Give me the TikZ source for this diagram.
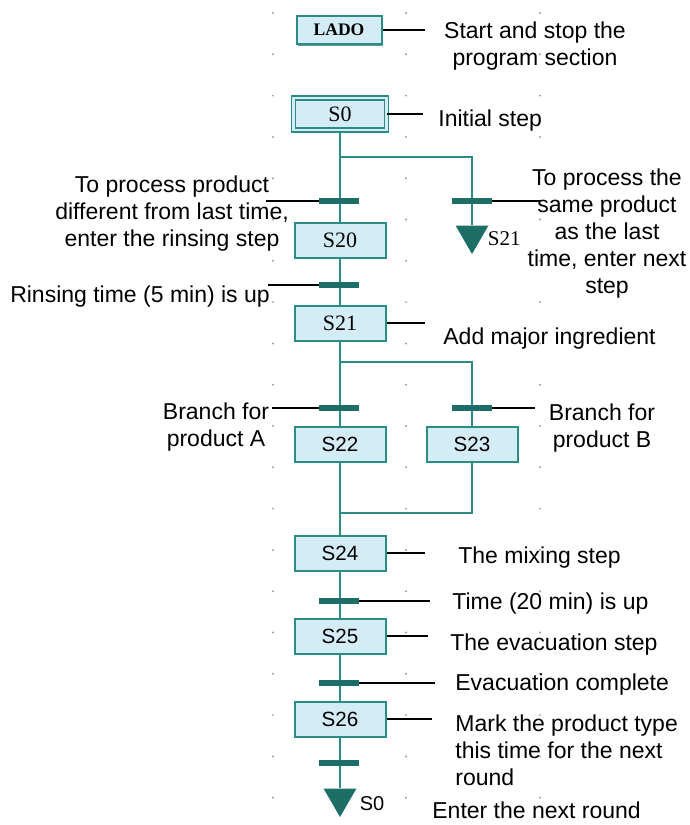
\documentclass[tikz,border=0pt]{standalone}
\usepackage{fontspec}
\setmainfont{Liberation Sans}
\newfontfamily\plcserif{Liberation Serif}
\usetikzlibrary{positioning, shapes.geometric, shadows, backgrounds}
\definecolor{sfcLine}{HTML}{2A8C84}
\definecolor{sfcDark}{HTML}{1D6E66}
\definecolor{sfcFill}{HTML}{D3ECF6}
\definecolor{gridDot}{HTML}{A0A0A0}
\tikzset{
  stepbox/.style={rectangle, draw=sfcLine, fill=sfcFill, line width=1pt,
                  minimum width=45.5pt, minimum height=17.5pt, inner sep=0pt,
                  font=\plcserif\fontsize{11}{12}\selectfont,
                  drop shadow={shadow xshift=0.8pt, shadow yshift=-0.8pt,
                               fill=sfcDark, opacity=0.7}},
  sansstep/.style={stepbox, font=\fontsize{10.3}{11}\selectfont},
  initstep/.style={stepbox, double=sfcFill, double distance=1.2pt,
                   line width=0.7pt, minimum width=46.5pt, minimum height=16pt},
  trans/.style={rectangle, fill=sfcDark, minimum width=20pt,
                minimum height=2.6pt, inner sep=0pt},
  endtri/.style={regular polygon, regular polygon sides=3,
                 shape border rotate=180, fill=sfcDark, minimum size=19pt,
                 inner sep=0pt},
  flow/.style={sfcLine, line width=0.9pt},
  lead/.style={black, line width=0.6pt},
  note/.style={font=\fontsize{11.5}{13.5}\selectfont, align=center, inner sep=0pt},
}

\begin{document}
\begin{tikzpicture}[x=0.5pt, y=-0.5pt]
  \useasboundingbox (0,0) rectangle (690,825);
  % raster of the editor
  \begin{scope}[on background layer]
    \foreach \gx in {273,406,540}
      \foreach \k in {0,...,19}
        \fill[gridDot] (\gx,13+41.3*\k) circle (0.55pt);
  \end{scope}

  % steps
  \node[stepbox, font=\plcserif\bfseries\fontsize{8.8}{10}\selectfont,
        minimum width=42.5pt, minimum height=14pt] (lado) at (339,30) {LADO};
  \node[initstep] (s0) at (340,114) {S0};
  \node[stepbox] (s20) at (340,240) {S20};
  \node[stepbox] (s21) at (340,323) {S21};
  \node[sansstep] (s22) at (340,444) {S22};
  \node[sansstep] (s23) at (472,444) {S23};
  \node[sansstep] (s24) at (340,553) {S24};
  \node[sansstep] (s25) at (340,636) {S25};
  \node[sansstep] (s26) at (340,719) {S26};

  % transitions and jumps
  \node[trans] (t0a) at (339,201) {};
  \node[trans] (t0b) at (472,201) {};
  \node[endtri] (tri1) at (472,235) {};
  \node[trans] (t1) at (339,285) {};
  \node[trans] (t2a) at (339,408) {};
  \node[trans] (t2b) at (472,408) {};
  \node[trans] (t3) at (339,601) {};
  \node[trans] (t4) at (339,683) {};
  \node[trans] (t5) at (339,763) {};
  \node[endtri] (tri2) at (340,798) {};
  \node[font=\plcserif\fontsize{10.5}{11}\selectfont, inner sep=0pt,
        right=2pt of tri1, yshift=-2pt] (jmp1) {S21};
  \node[font=\fontsize{10}{11}\selectfont, inner sep=0pt,
        right=4pt of tri2, yshift=-3pt] (jmp2) {S0};

  % flow lines
  \begin{scope}[on background layer]
    \coordinate (b0) at (340,157);
    \coordinate (b1) at (340,362);
    \coordinate (m1) at (340,513);
    \draw[flow] (s0) -- (s20);
    \draw[flow] (b0) -| (tri1);
    \draw[flow] (s20) -- (s21);
    \draw[flow] (s21) -- (s22);
    \draw[flow] (b1) -| (s23);
    \draw[flow] (s23) |- (m1);
    \draw[flow] (s22) -- (s24);
    \draw[flow] (s24) -- (s25) -- (s26) -- (tri2);
  \end{scope}

  % comments
  \node[note] (nLado) at (535,46) {Start and stop the\\program section};
  \node[note, anchor=west] (nS0) at (438,121) {Initial step};
  \node[note] (nT0a) at (172,214) {To process product\\different from last time,\\enter the rinsing step};
  \node[note] (nT0b) at (607,234) {To process the\\same product\\as the last\\time, enter next\\step};
  \node[note] (nT1) at (140,297) {Rinsing time (5 min) is up};
  \node[note, anchor=west] (nS21) at (443,339) {Add major ingredient};
  \node[note] (nT2a) at (216,427) {Branch for\\product A};
  \node[note] (nT2b) at (602,428) {Branch for\\product B};
  \node[note, anchor=west] (nS24) at (458,558) {The mixing step};
  \node[note, anchor=west] (nT3) at (452,604) {Time (20 min) is up};
  \node[note, anchor=west] (nS25) at (450,645) {The evacuation step};
  \node[note, anchor=west] (nT4) at (455,685) {Evacuation complete};
  \node[note, anchor=west, align=left] (nS26) at (455,750) {Mark the product type\\this time for the next\\round};
  \node[note, anchor=west] (nEnd) at (432,810) {Enter the next round};

  % leader lines
  \coordinate (e0) at (425,30);
  \coordinate (e1) at (423,114);
  \coordinate (e2) at (266,201);
  \coordinate (e3) at (540,201);
  \coordinate (e4) at (268,285);
  \coordinate (e5) at (425,323);
  \coordinate (e6) at (272,408);
  \coordinate (e7) at (535,408);
  \coordinate (e8) at (425,553);
  \coordinate (e9) at (430,601);
  \coordinate (e10) at (428,636);
  \coordinate (e11) at (435,683);
  \coordinate (e12) at (432,719);
  \draw[lead] (lado.east) -- (e0);
  \draw[lead] (s0.east) -- (e1);
  \draw[lead] (t0a.west) -- (e2);
  \draw[lead] (t0b.east) -- (e3);
  \draw[lead] (t1.west) -- (e4);
  \draw[lead] (s21.east) -- (e5);
  \draw[lead] (t2a.west) -- (e6);
  \draw[lead] (t2b.east) -- (e7);
  \draw[lead] (s24.east) -- (e8);
  \draw[lead] (t3.east) -- (e9);
  \draw[lead] (s25.east) -- (e10);
  \draw[lead] (t4.east) -- (e11);
  \draw[lead] (s26.east) -- (e12);
\end{tikzpicture}
\end{document}
